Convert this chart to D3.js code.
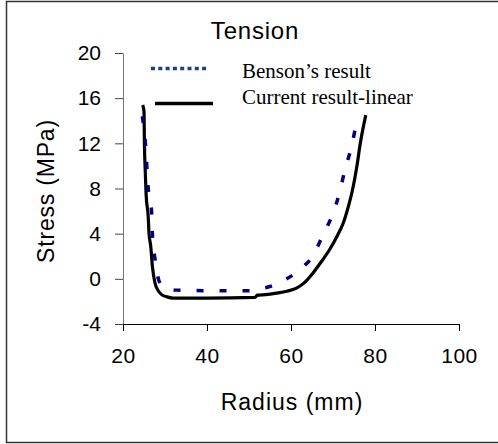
<!DOCTYPE html>
<html>
<head>
<meta charset="utf-8">
<script src="https://cdn.jsdelivr.net/npm/d3@7"></script>
<style>
  body { margin: 0; background: #fff; }
  svg { display: block; }
</style>
</head>
<body>
<div id="chart"></div>
<script>
// values
var bensonRadius = [24.6, 25.3, 26.0, 26.8, 27.0, 27.6, 28.6, 30.0, 32.8, 40, 50.2, 53, 55.7, 58, 60.5, 63, 65.2, 67.6, 70, 71.6, 72.8, 74.4, 75.6, 76.0];
var bensonStress = [14.4, 12.2, 8.0, 6.0, 3.9, 1.8, -0.2, -0.8, -1.0, -1.05, -1.05, -0.85, -0.6, -0.2, 0.35, 1.1, 2.0, 3.9, 5.8, 7.7, 9.6, 11.7, 13.8, 14.4];

var currentRadius = [24.7, 25.0, 25.1, 25.3, 25.5, 26.0, 26.2, 26.6, 27.0, 27.6, 28.3, 29.2, 30.5, 31.9, 40, 51.4, 52, 54, 56.5, 59, 61.3, 63, 65.2, 67, 69.2, 71, 72.4, 73.5, 74.6, 75.7, 76.5, 77.3, 77.8];
var currentStress = [15.4, 14.8, 12.0, 9.5, 7.5, 5.5, 4.0, 2.9, 1.1, -0.35, -1.0, -1.4, -1.6, -1.7, -1.7, -1.65, -1.45, -1.4, -1.27, -1.1, -0.82, -0.4, 0.5, 1.4, 2.6, 3.8, 4.9, 6.2, 7.8, 10.0, 12.0, 13.6, 14.5];

var xTicks = [20, 40, 60, 80, 100];
var yTicks = [-4, 0, 4, 8, 12, 16, 20];

var chartTitle = "Tension";
var xLabel = "Radius (mm)";
var yLabel = "Stress (MPa)";
var legendNames = ["Benson\u2019s result", "Current result-linear"];

var width = 498, height = 444;
var sans = "Arial, 'Liberation Sans', sans-serif";

var svg = d3.select("#chart").append("svg")
    .attr("width", width)
    .attr("height", height);

// outer frame (right edge is cut off in the original)
svg.append("rect")
    .attr("x", 6.5).attr("y", 1.5)
    .attr("width", 520).attr("height", 441)
    .style("fill", "none")
    .style("stroke", "#333")
    .style("stroke-width", "1.5px");

var x = d3.scaleLinear().domain([20, 100]).range([123, 459]);
var y = d3.scaleLinear().domain([-4, 20]).range([324, 53]);

// plain hyphen for negatives, like the original
var fmt = function (d) { return String(d); };

// y axis
var yAxis = svg.append("g")
    .attr("transform", "translate(123,0)")
    .call(d3.axisLeft(y).tickValues(yTicks).tickFormat(fmt).tickSize(8).tickSizeOuter(0).tickPadding(14));
yAxis.select(".domain").style("stroke", "#777");
yAxis.selectAll(".tick line").style("stroke", "#444");
yAxis.selectAll("text")
    .style("font-family", sans)
    .style("font-size", "21px")
    .style("fill", "#000");

// x axis
var xAxis = svg.append("g")
    .attr("transform", "translate(0,324)")
    .call(d3.axisBottom(x).tickValues(xTicks).tickFormat(fmt).tickSize(7).tickSizeOuter(0).tickPadding(17));
xAxis.select(".domain").style("stroke", "#000");
xAxis.selectAll(".tick line").style("stroke", "#000");
xAxis.selectAll("text")
    .style("font-family", sans)
    .style("font-size", "21px")
    .style("letter-spacing", "0.5px")
    .style("fill", "#000");

// title and axis labels
svg.append("text")
    .attr("x", 255).attr("y", 39)
    .attr("text-anchor", "middle")
    .style("font-family", sans)
    .style("font-size", "24px")
    .style("letter-spacing", "0.8px")
    .text(chartTitle);

svg.append("text")
    .attr("x", 292).attr("y", 410)
    .attr("text-anchor", "middle")
    .style("font-family", sans)
    .style("font-size", "23px")
    .style("letter-spacing", "1px")
    .text(xLabel);

svg.append("text")
    .attr("transform", "translate(54,191) rotate(-90)")
    .attr("text-anchor", "middle")
    .style("font-family", sans)
    .style("font-size", "23px")
    .style("letter-spacing", "0.8px")
    .text(yLabel);

// lines
var benson = bensonRadius.map(function (r, i) { return [r, bensonStress[i]]; });
var current = currentRadius.map(function (r, i) { return [r, currentStress[i]]; });

var line = d3.line()
    .x(function (d) { return x(d[0]); })
    .y(function (d) { return y(d[1]); })
    .curve(d3.curveMonotoneX);

svg.append("path")
    .datum(current)
    .attr("d", line)
    .style("fill", "none")
    .style("stroke", "#000")
    .style("stroke-width", "3.2px");

svg.append("path")
    .datum(benson)
    .attr("d", line)
    .style("fill", "none")
    .style("stroke", "#000080")
    .style("stroke-width", "3.5px")
    .style("stroke-dasharray", "7,16");

// legend
svg.append("line")
    .attr("x1", 151).attr("x2", 209)
    .attr("y1", 68.5).attr("y2", 68.5)
    .style("stroke", "#1c4080")
    .style("stroke-width", "3.5px")
    .style("stroke-dasharray", "4,3.3");

svg.append("line")
    .attr("x1", 155).attr("x2", 213)
    .attr("y1", 103.5).attr("y2", 103.5)
    .style("stroke", "#000")
    .style("stroke-width", "3.5px");

svg.selectAll("text.legend")
    .data(legendNames)
    .enter().append("text")
    .attr("class", "legend")
    .attr("x", 242)
    .attr("y", function (d, i) { return 78 + i * 26; })
    .style("font-family", "'Times New Roman', 'Liberation Serif', serif")
    .style("font-size", "21px")
    .text(function (d) { return d; });
</script>
</body>
</html>
